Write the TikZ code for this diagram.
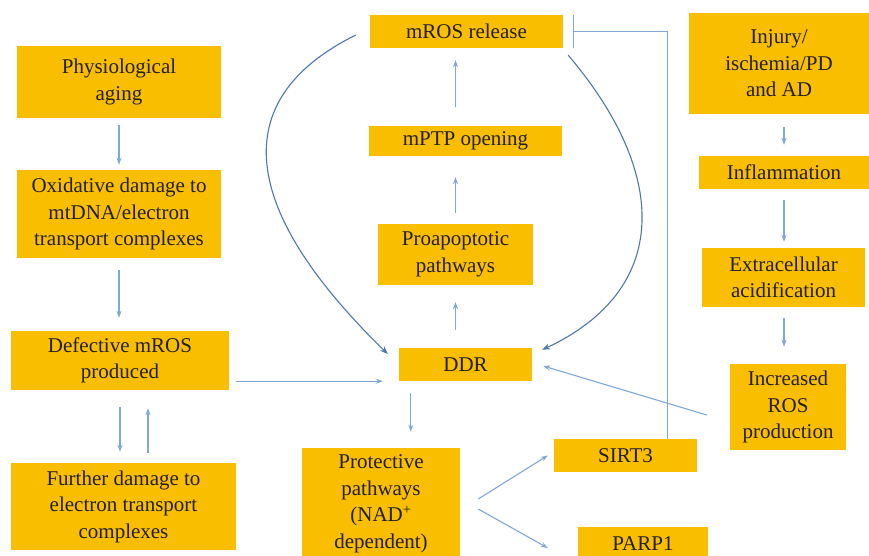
\documentclass[tikz,border=0pt]{standalone}
\usepackage{fontspec}
\setmainfont{Liberation Serif}
\usepackage{tikz}
\usetikzlibrary{arrows.meta,calc}

\definecolor{boxgold}{HTML}{FABE00}
\definecolor{linkblue}{HTML}{7FA8D8}
\definecolor{curveblue}{HTML}{4C78AE}
\definecolor{inktext}{HTML}{231F20}

\begin{document}
\begin{tikzpicture}[
x=1pt, y=-1pt,
goldbox/.style={rectangle, fill=boxgold, inner sep=0pt, align=center, text=inktext,
  font=\fontsize{21}{26.5}\selectfont},
link/.style={draw=linkblue, line width=1.1pt, -{Stealth[length=7pt,width=5pt]}},
curvelink/.style={draw=curveblue, line width=1.1pt, -{Stealth[length=8pt,width=6pt]}},
inhibit/.style={draw=linkblue, line width=1.1pt, -{Bar[width=33pt]}},
]
\useasboundingbox (0,0) rectangle (869,556);

%Nodes
\node[goldbox, minimum width=204pt, minimum height=72pt]  (aging)   at (119,82)    {Physiological\\aging};
\node[goldbox, minimum width=204pt, minimum height=88pt]  (oxid)    at (119,214)   {Oxidative damage to\\mtDNA/electron\\transport complexes};
\node[goldbox, minimum width=218pt, minimum height=59pt]  (defect)  at (120,360.5) {Defective mROS\\produced};
\node[goldbox, minimum width=225pt, minimum height=87pt]  (further) at (123.5,506.5) {Further damage to\\electron transport\\complexes};

\node[goldbox, minimum width=193pt, minimum height=33pt]  (release) at (466.5,31.5) {mROS release};
\node[goldbox, minimum width=193pt, minimum height=30pt]  (mptp)    at (465.5,141) {mPTP opening};
\node[goldbox, minimum width=155pt, minimum height=61pt]  (proapo)  at (455.5,254.5) {Proapoptotic\\pathways};
\node[goldbox, minimum width=133pt, minimum height=33pt]  (ddr)     at (465.5,364.5) {DDR};
\node[goldbox, minimum width=158pt, minimum height=112pt] (protect) at (381,504)   {Protective\\pathways\\(NAD\textsuperscript{+}\\dependent)};
\node[goldbox, minimum width=143pt, minimum height=33pt]  (sirt3)   at (625.5,455.5) {SIRT3};
\node[goldbox, minimum width=130pt, minimum height=34pt]  (parp1)   at (643,544)   {PARP1};

\node[goldbox, minimum width=180pt, minimum height=101pt] (injury)  at (779,63.5)  {Injury/\\ischemia/PD\\and AD};
\node[goldbox, minimum width=170pt, minimum height=33pt]  (inflam)  at (784,172.5) {Inflammation};
\node[goldbox, minimum width=163pt, minimum height=59pt]  (acid)    at (783.5,277.5) {Extracellular\\acidification};
\node[goldbox, minimum width=116pt, minimum height=86pt]  (incros)  at (788,407)   {Increased\\ROS\\production};

%Left column
\draw[link, shorten <=7pt, shorten >=5pt] (aging.south) -- (oxid.north);
\draw[link, shorten <=12pt, shorten >=13pt] (oxid.south) -- (oxid.south |- defect.north);
\draw[link, shorten <=17pt, shorten >=11pt] (defect.south) -- (defect.south |- further.north);
\draw[link, shorten <=10pt, shorten >=18pt] ([xshift=28pt]defect.south |- further.north) -- ([xshift=28pt]defect.south);
\draw[link] ($(defect.east |- ddr.south)+(7,0)$) -- ($(ddr.south west)+(-16,0)$);

%Middle column
\draw[link, shorten <=18pt, shorten >=17pt] (proapo.south |- ddr.north) -- (proapo.south);
\draw[link, shorten <=11pt, shorten >=21pt] (proapo.north) -- (proapo.north |- mptp.south);
\draw[link, shorten <=19pt, shorten >=12pt] (proapo.north |- mptp.north) -- (proapo.north |- release.south);
\draw[link] ($(ddr.south west)+(12,12)$) -- ($(ddr.south west |- protect.north)+(12,-16)$);
\draw[curvelink] ($(release.west)+(-14,3.5)$) .. controls (225,100) and (240,210) .. ($(ddr.west)+(-11,-10.5)$);
\draw[curvelink] ($(release.south east)+(5,7)$) .. controls (670,175) and (670,290) .. ($(ddr.north east)+(10,2)$);
\draw[link] ($(protect.east)+(18,-5)$) -- ($(sirt3.west)+(-6,0)$);
\draw[link] ($(protect.east)+(18,5)$) -- ($(parp1.west)+(-30,4)$);
\draw[inhibit, shorten >=10pt] ($(sirt3.north west)+(114,0)$) |- (release.east);

%Right column
\draw[link, shorten <=13pt, shorten >=11pt] (inflam.north |- injury.south) -- (inflam.north);
\draw[link, shorten <=11pt, shorten >=6pt] (inflam.south) -- (inflam.south |- acid.north);
\draw[link, shorten <=11pt, shorten >=17pt] (inflam.south |- acid.south) -- (inflam.south |- incros.north);
\draw[link] ($(incros.west)+(-23,8)$) -- ($(ddr.east)+(11,1.5)$);

\end{tikzpicture}
\end{document}
